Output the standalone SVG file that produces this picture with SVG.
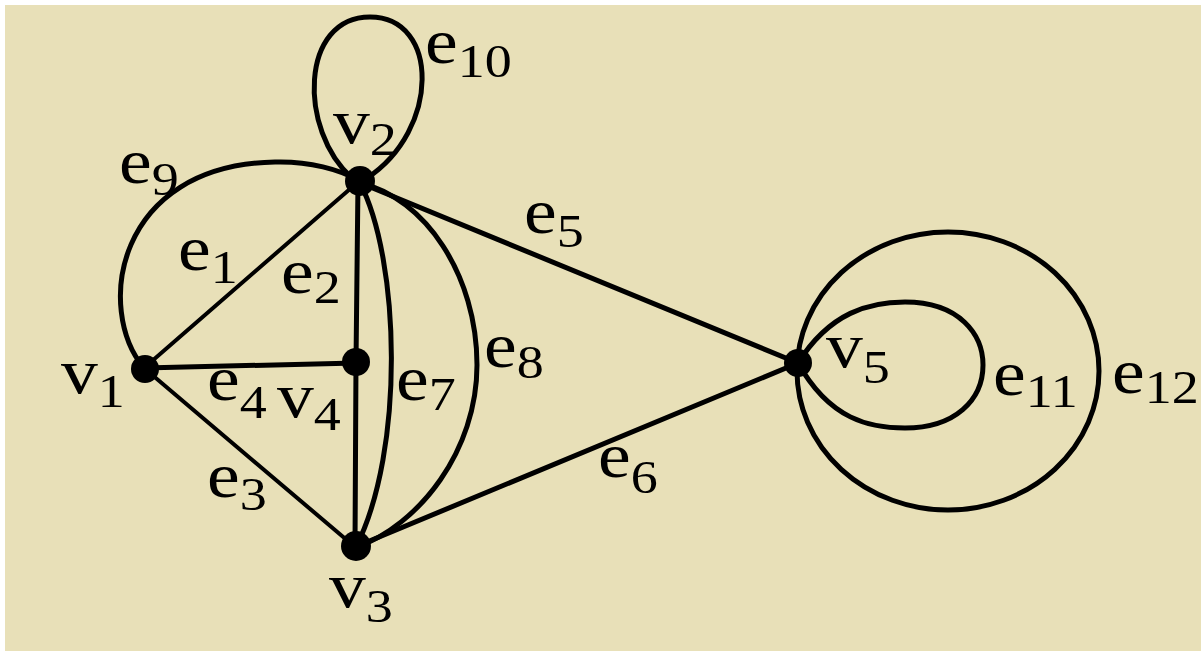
<svg xmlns="http://www.w3.org/2000/svg" width="1201" height="651" viewBox="0 0 1201 651">
<style>
.bg{fill:#E8E0B8}
.e{fill:none;stroke:#000;stroke-width:5;stroke-linecap:round}
.thin{stroke-width:4}
.dot{fill:#000}
.t{font-family:"Liberation Serif","Times New Roman",serif;font-size:64px;fill:#000}
.s{font-size:47px}
</style>
<rect x="0" y="0" width="1201" height="651" fill="#fff"/>
<rect class="bg" x="5" y="5" width="1196" height="646"/>
<g id="connectors">
  <path id="e10" class="e" d="M352,178 C298,130 300,17 370,17 C440,17 440,130 367,178"/>
  <path id="e9" class="e" d="M144,368 C95,310 115,165 275,162 C310,161 340,170 358,180"/>
  <line id="e1" class="e thin" x1="144" y1="368" x2="358" y2="182"/>
  <line id="e2" class="e" x1="358" y1="182" x2="356" y2="362"/>
  <line id="e2b" class="e" x1="356" y1="362" x2="355" y2="547"/>
  <line id="e4" class="e" x1="144" y1="368" x2="356" y2="363"/>
  <line id="e3" class="e thin" x1="144" y1="368" x2="355" y2="547"/>
  <path id="e7" class="e" d="M360,183 C400,260 405,450 356,547"/>
  <path id="e8" class="e" d="M360,183 C425,198 477,275 477,365 C477,450 420,525 355,548"/>
  <line id="e5" class="e" x1="358" y1="182" x2="798" y2="363"/>
  <line id="e6" class="e" x1="355" y1="547" x2="798" y2="363"/>
  <path id="e11" class="e" d="M798,363 C830,312 870,302 905,302 C960,302 983,335 983,365 C983,400 955,428 905,428 C870,428 830,420 798,363"/>
  <ellipse id="e12" class="e" cx="948" cy="371" rx="151" ry="139"/>
  <g id="edge-labels">
    <text class="t" transform="translate(425,63) scale(1.15,1)">e<tspan class="s" dy="14">10</tspan></text>
    <text class="t" transform="translate(119,183) scale(1.15,1)">e<tspan class="s" dy="12">9</tspan></text>
    <text class="t" transform="translate(524,233) scale(1.15,1)">e<tspan class="s" dy="14">5</tspan></text>
    <text class="t" transform="translate(178,270) scale(1.15,1)">e<tspan class="s" dy="13">1</tspan></text>
    <text class="t" transform="translate(281,293) scale(1.15,1)">e<tspan class="s" dy="10">2</tspan></text>
    <text class="t" transform="translate(207,400) scale(1.15,1)">e<tspan class="s" dy="18">4</tspan></text>
    <text class="t" transform="translate(396,400) scale(1.15,1)">e<tspan class="s" dy="10">7</tspan></text>
    <text class="t" transform="translate(484,367) scale(1.15,1)">e<tspan class="s" dy="11">8</tspan></text>
    <text class="t" transform="translate(207,497) scale(1.15,1)">e<tspan class="s" dy="13">3</tspan></text>
    <text class="t" transform="translate(598,477) scale(1.15,1)">e<tspan class="s" dy="16">6</tspan></text>
    <text class="t" transform="translate(993,395) scale(1.15,1)">e<tspan class="s" dy="12">11</tspan></text>
    <text class="t" transform="translate(1112,393) scale(1.15,1)">e<tspan class="s" dy="10">12</tspan></text>
  </g>
</g>
<g id="v1"><circle class="dot" cx="145" cy="369" r="14"/><text class="t" transform="translate(61,393) scale(1.15,1)">v<tspan class="s" dy="14">1</tspan></text></g>
<g id="v2"><circle class="dot" cx="360" cy="181" r="15"/><text class="t" transform="translate(333,143) scale(1.15,1)">v<tspan class="s" dy="12">2</tspan></text></g>
<g id="v3"><circle class="dot" cx="356" cy="546" r="15"/><text class="t" transform="translate(329,607) scale(1.15,1)">v<tspan class="s" dy="15">3</tspan></text></g>
<g id="v4"><circle class="dot" cx="356" cy="362" r="14"/><text class="t" transform="translate(277,417) scale(1.15,1)">v<tspan class="s" dy="13">4</tspan></text></g>
<g id="v5"><circle class="dot" cx="798" cy="363" r="14"/><text class="t" transform="translate(826,367) scale(1.15,1)">v<tspan class="s" dy="16">5</tspan></text></g>
</svg>
